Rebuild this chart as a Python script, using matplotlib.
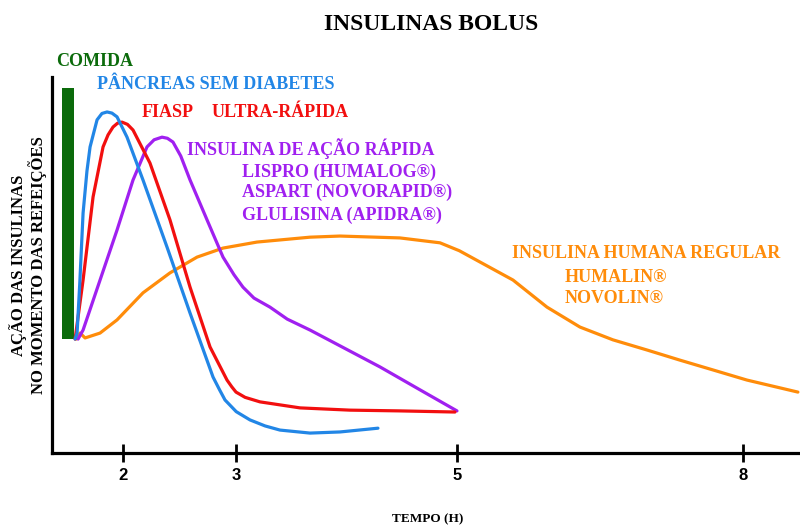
import matplotlib
matplotlib.use("Agg")
import matplotlib.pyplot as plt

# time in hours (axis position), action in % of axis height
blue_t = [1.568, 1.586, 1.610, 1.640, 1.675, 1.703, 1.766, 1.810, 1.856, 1.900, 1.946, 2.036, 2.180, 2.396, 2.604, 2.811, 2.870, 2.919, 3.020, 3.144, 3.280, 3.414, 3.685, 3.955, 4.297]
blue_y = [30.3, 31.9, 45.0, 63.8, 75.0, 81.4, 88.6, 90.3, 90.7, 90.4, 89.4, 84.0, 72.6, 54.8, 37.2, 20.2, 16.8, 14.1, 11.0, 8.8, 7.2, 6.1, 5.3, 5.6, 6.6]

red_t = [1.568, 1.640, 1.730, 1.820, 1.865, 1.910, 1.950, 1.991, 2.040, 2.090, 2.243, 2.423, 2.604, 2.784, 2.937, 2.980, 3.018, 3.100, 3.234, 3.595, 4.045, 4.495, 4.991]
red_y = [30.3, 46.0, 68.1, 81.4, 84.6, 86.7, 87.7, 88.0, 87.4, 85.9, 77.1, 62.0, 44.1, 28.2, 19.4, 17.6, 16.2, 14.8, 13.6, 12.0, 11.4, 11.2, 10.9]

purple_t = [1.595, 1.640, 1.793, 1.946, 2.090, 2.216, 2.280, 2.351, 2.400, 2.450, 2.520, 2.604, 2.757, 2.901, 3.000, 3.081, 3.180, 3.324, 3.480, 3.685, 4.315, 4.676, 5.009]
purple_y = [30.3, 32.7, 46.0, 59.3, 72.6, 81.4, 83.3, 84.0, 83.7, 82.7, 79.0, 72.6, 62.0, 52.1, 47.4, 44.1, 41.2, 38.8, 35.6, 32.7, 22.9, 16.8, 11.2]

orange_t = [1.577, 1.613, 1.658, 1.793, 1.946, 2.180, 2.423, 2.667, 2.901, 3.207, 3.685, 3.955, 4.495, 4.856, 5.030, 5.216, 5.514, 5.820, 6.117, 6.414, 6.721, 7.018, 7.315, 7.622, 8.081]
orange_y = [30.3, 31.9, 30.6, 31.9, 35.4, 42.6, 47.9, 52.1, 54.5, 56.1, 57.4, 57.7, 57.2, 55.9, 53.8, 50.8, 46.0, 38.8, 33.5, 30.1, 27.4, 24.7, 22.1, 19.4, 16.2]

meal_t = 1.505
meal_bottom = 30.3
meal_top = 97.1

tick_pos = [2, 3.018, 5.009, 7.586]
tick_labels = ["2", "3", "5", "8"]

GREEN = "#0b6b0b"
BLUE = "#2286e6"
RED = "#f20f0f"
PURPLE = "#a020f0"
ORANGE = "#ff8c0a"

serif = "Liberation Serif"

fig = plt.figure(figsize=(8, 5.27), dpi=100)
ax = fig.add_axes([0.065, 0.1404, 0.935, 0.7135])

ax.bar(meal_t, meal_top - meal_bottom, bottom=meal_bottom, width=0.108, color=GREEN)

for t, y, c in [(orange_t, orange_y, ORANGE), (purple_t, purple_y, PURPLE),
                (red_t, red_y, RED), (blue_t, blue_y, BLUE)]:
    ax.plot(t, y, color=c, lw=2.3, solid_capstyle="round", solid_joinstyle="round")

ax.set_xlim(1.36, 8.1)
ax.set_ylim(0, 100)
for s in ["top", "right"]:
    ax.spines[s].set_visible(False)
for s in ["left", "bottom"]:
    ax.spines[s].set_linewidth(2.3)
    ax.spines[s].set_capstyle("projecting")
ax.set_yticks([])
ax.set_xticks(tick_pos)
ax.set_xticklabels(tick_labels, fontfamily="Liberation Sans", fontweight="bold", fontsize=12)
ax.tick_params(axis="x", direction="inout", length=13, width=2, pad=4)

txt = dict(fontfamily=serif, fontweight="bold", fontsize=13, va="baseline", ha="left")
ax.text(1.40, 103.0, "COMIDA", color=GREEN, clip_on=False, **txt)
ax.text(1.766, 96.8, "PÂNCREAS SEM DIABETES", color=BLUE, **txt)
ax.text(2.171, 89.4, "FIASP", color=RED, **txt)
ax.text(2.80, 89.4, "ULTRA-RÁPIDA", color=RED, **txt)
ax.text(2.577, 79.3, "INSULINA DE AÇÃO RÁPIDA", color=PURPLE, **txt)
ax.text(3.072, 73.4, "LISPRO (HUMALOG®)", color=PURPLE, **txt)
ax.text(3.072, 68.1, "ASPART (NOVORAPID®)", color=PURPLE, **txt)
ax.text(3.072, 62.0, "GLULISINA (APIDRA®)", color=PURPLE, **txt)
ax.text(5.505, 51.9, "INSULINA HUMANA REGULAR", color=ORANGE, **txt)
ax.text(5.982, 45.5, "HUMALIN®", color=ORANGE, **txt)
ax.text(5.982, 39.9, "NOVOLIN®", color=ORANGE, **txt)

fig.text(0.539, 0.943, "INSULINAS BOLUS", fontfamily=serif, fontweight="bold",
         fontsize=17, ha="center", va="baseline")
fig.text(18 / 800, 0.497, "AÇÃO DAS INSULINAS", fontfamily=serif, fontweight="bold",
         fontsize=12, rotation=90, ha="center", va="center")
fig.text(38 / 800, 0.497, "NO MOMENTO DAS REFEIÇÕES", fontfamily=serif, fontweight="bold",
         fontsize=12, rotation=90, ha="center", va="center")
fig.text(0.535, 1 - 522 / 527, "TEMPO (H)", fontfamily=serif, fontweight="bold",
         fontsize=9.5, ha="center", va="baseline")

fig.savefig("out.png", dpi=100)
